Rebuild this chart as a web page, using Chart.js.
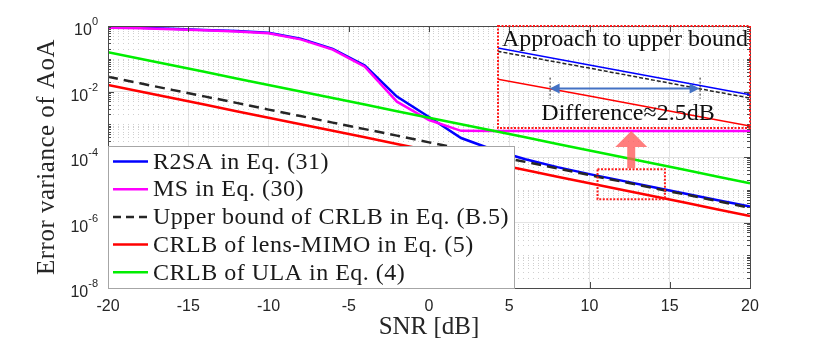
<!DOCTYPE html>
<html>
<head>
<meta charset="utf-8">
<script src="https://cdn.jsdelivr.net/npm/chart.js@4.4.1/dist/chart.umd.min.js"></script>
<style>
  body { margin: 0; background: #fff; }
  #wrap { position: relative; width: 830px; height: 347px; }
  canvas { position: absolute; }
</style>
</head>
<body>
<div id="wrap">
  <canvas id="mainChart" width="830" height="347" style="left:0;top:0"></canvas>
  <canvas id="insetChart" width="262" height="112" style="left:493px;top:21px"></canvas>
</div>
<script>
// SNR in dB, one point every 2 dB
const snr = [-20, -18, -16, -14, -12, -10, -8, -6, -4, -2, 0, 2, 4, 6, 8, 10, 12, 14, 16, 18, 20];
const r2sa = [0.92, 0.88, 0.82, 0.76, 0.70, 0.62, 0.41, 0.20, 0.062, 7.0e-3, 1.66e-3, 3.8e-4, 1.66e-4,
  8.5e-5, 4.9e-5, 3.0e-5, 1.9e-5, 1.2e-5, 7.6e-6, 4.8e-6, 3.1e-6];
const ms = [0.89, 0.85, 0.79, 0.74, 0.68, 0.60, 0.39, 0.19, 0.057, 4.9e-3, 1.35e-3, 6.3e-4, 6.2e-4,
  6.2e-4, 6.2e-4, 6.2e-4, 6.2e-4, 6.2e-4, 6.2e-4, 6.2e-4, 6.2e-4];
const upperBound = [0.0282, 0.0178, 0.0112, 7.1e-3, 4.5e-3, 2.8e-3, 1.78e-3, 1.12e-3, 7.1e-4, 4.5e-4, 2.8e-4,
  1.78e-4, 1.12e-4, 7.1e-5, 4.5e-5, 2.8e-5, 1.78e-5, 1.12e-5, 7.1e-6, 4.5e-6, 2.8e-6];
const lensMimo = [0.0158, 0.01, 6.3e-3, 4.0e-3, 2.5e-3, 1.58e-3, 1.0e-3, 6.3e-4, 4.0e-4, 2.5e-4, 1.58e-4,
  1.0e-4, 6.3e-5, 4.0e-5, 2.5e-5, 1.58e-5, 1.0e-5, 6.3e-6, 4.0e-6, 2.5e-6, 1.58e-6];
const ula = [0.158, 0.1, 0.063, 0.04, 0.025, 0.0158, 0.01, 6.3e-3, 4.0e-3, 2.5e-3, 1.58e-3, 1.0e-3,
  6.3e-4, 4.0e-4, 2.5e-4, 1.58e-4, 1.0e-4, 6.3e-5, 4.0e-5, 2.5e-5, 1.58e-5];

const seriesNames = ['R2SA in Eq. (31)', 'MS in Eq. (30)', 'Upper bound of CRLB in Eq. (B.5)',
  'CRLB of lens-MIMO in Eq. (5)', 'CRLB of ULA in Eq. (4)'];
const yTicks = [1, 1e-2, 1e-4, 1e-6, 1e-8];

// zoomed region shown in the inset
const zoomSnr = [10.5, 14.7];
const zoomVar = [4.22e-5, 5.15e-6];
// 2.5 dB gap marker inside the inset
const diffLevel = 1.16e-5;
const diffSnr = [11.36, 13.86];

const serif = '"Liberation Serif", "Times New Roman", serif';
const sans = '"Liberation Sans", Arial, sans-serif';

function pts(ys) {
  return snr.map((x, i) => ({ x: x, y: ys[i] }));
}

function makeSets(w) {
  return [
    { label: seriesNames[0], data: pts(r2sa), borderColor: '#0000ff', order: 5 },
    { label: seriesNames[1], data: pts(ms), borderColor: '#ff00ff', order: 4 },
    { label: seriesNames[2], data: pts(upperBound), borderColor: '#262626', borderDash: w > 2 ? [10, 6] : [4, 2], order: 3 },
    { label: seriesNames[3], data: pts(lensMimo), borderColor: '#ff0000', order: 2 },
    { label: seriesNames[4], data: pts(ula), borderColor: '#00ee00', order: 1 }
  ].map(d => Object.assign(d, { borderWidth: w, pointRadius: 0, tension: 0, fill: false }));
}

const decor = {
  id: 'decor',
  beforeDatasetsDraw(chart) {
    const ctx = chart.ctx, a = chart.chartArea, ys = chart.scales.y;
    ctx.save();
    ctx.strokeStyle = '#cfcfcf';
    ctx.lineWidth = 1;
    ctx.setLineDash([1, 4]);
    for (let n = -8; n < 0; n++) {
      for (let k = 1; k <= 9; k++) {
        const v = k * Math.pow(10, n);
        if (k === 1 && n % 2 === 0) continue;
        const y = Math.round(ys.getPixelForValue(v)) + 0.5;
        ctx.beginPath(); ctx.moveTo(a.left, y); ctx.lineTo(a.right, y); ctx.stroke();
      }
    }
    ctx.restore();
  },
  afterDatasetsDraw(chart) {
    const ctx = chart.ctx, a = chart.chartArea, xs = chart.scales.x, ys = chart.scales.y;
    ctx.save();
    // small dotted box marking the zoomed region
    const bx0 = xs.getPixelForValue(zoomSnr[0]), bx1 = xs.getPixelForValue(zoomSnr[1]);
    const by0 = ys.getPixelForValue(zoomVar[0]), by1 = ys.getPixelForValue(zoomVar[1]);
    ctx.strokeStyle = '#ff1a1a';
    ctx.lineWidth = 2;
    ctx.setLineDash([2, 1.5]);
    ctx.strokeRect(bx0, by0, bx1 - bx0, by1 - by0);
    ctx.setLineDash([]);
    // big arrow up to the inset
    const cx = (bx0 + bx1) / 2, tip = 131, headBase = 147;
    ctx.fillStyle = 'rgba(255, 90, 90, 0.78)';
    ctx.beginPath();
    ctx.moveTo(cx - 4, by0 - 1); ctx.lineTo(cx - 4, headBase); ctx.lineTo(cx - 16, headBase);
    ctx.lineTo(cx, tip); ctx.lineTo(cx + 16, headBase); ctx.lineTo(cx + 4, headBase);
    ctx.lineTo(cx + 4, by0 - 1); ctx.closePath(); ctx.fill();

    // axes box and ticks
    ctx.strokeStyle = '#4a4a4a';
    ctx.lineWidth = 1;
    ctx.strokeRect(a.left + 0.5, a.top + 0.5, a.right - a.left, a.bottom - a.top);
    ctx.beginPath();
    xs.ticks.forEach(t => {
      const x = Math.round(xs.getPixelForValue(t.value)) + 0.5;
      ctx.moveTo(x, a.bottom); ctx.lineTo(x, a.bottom - 6);
      ctx.moveTo(x, a.top); ctx.lineTo(x, a.top + 6);
    });
    for (let n = -8; n <= 0; n++) {
      for (let k = 1; k <= 9; k++) {
        const v = k * Math.pow(10, n);
        if (v > 1) break;
        const len = (k === 1 && n % 2 === 0) ? 6 : 3;
        const y = Math.round(ys.getPixelForValue(v)) + 0.5;
        ctx.moveTo(a.left, y); ctx.lineTo(a.left + len, y);
        ctx.moveTo(a.right, y); ctx.lineTo(a.right - len, y);
      }
    }
    ctx.stroke();

    // legend
    const lx = a.left, ly = 146, lw = 406, lh = a.bottom - ly;
    ctx.fillStyle = '#fff';
    ctx.fillRect(lx, ly, lw, lh);
    ctx.strokeStyle = '#a6a6a6';
    ctx.strokeRect(lx + 0.5, ly + 0.5, lw, lh);
    ctx.font = '24px ' + serif;
    ctx.letterSpacing = '0.5px';
    ctx.textBaseline = 'middle';
    ctx.textAlign = 'left';
    chart.data.datasets.forEach((d, i) => {
      const y = 161.5 + i * 27.7;
      ctx.strokeStyle = d.borderColor;
      ctx.lineWidth = 2.5;
      ctx.setLineDash(d.borderDash ? [8, 5] : []);
      ctx.beginPath(); ctx.moveTo(lx + 5, y); ctx.lineTo(lx + 40, y); ctx.stroke();
      ctx.fillStyle = '#1a1a1a';
      ctx.fillText(d.label, lx + 45, y + 1);
    });
    ctx.letterSpacing = '0px';
    ctx.setLineDash([]);
    ctx.restore();
  },
  afterDraw(chart) {
    const ctx = chart.ctx, a = chart.chartArea, xs = chart.scales.x, ys = chart.scales.y;
    ctx.save();
    ctx.fillStyle = '#262626';
    ctx.font = '16px ' + sans;
    ctx.textAlign = 'center';
    ctx.textBaseline = 'middle';
    xs.ticks.forEach(t => ctx.fillText(String(t.value), xs.getPixelForValue(t.value), 307));
    yTicks.forEach(v => {
      const exp = String(Math.round(Math.log10(v)));
      const y = ys.getPixelForValue(v);
      ctx.font = '11px ' + sans;
      const ew = ctx.measureText(exp).width;
      ctx.textAlign = 'right';
      ctx.fillText(exp, 98, y - 4);
      ctx.font = '16px ' + sans;
      ctx.fillText('10', 98 - ew, y + 5);
    });
    ctx.font = '25px ' + serif;
    ctx.textAlign = 'center';
    ctx.fillText('SNR [dB]', (a.left + a.right) / 2, 327);
    ctx.translate(47, (a.top + a.bottom) / 2);
    ctx.rotate(-Math.PI / 2);
    ctx.letterSpacing = '0.5px';
    ctx.fillText('Error variance of AoA', 0, 0);
    ctx.restore();
  }
};

new Chart(document.getElementById('mainChart'), {
  type: 'line',
  data: { datasets: makeSets(2.5) },
  options: {
    responsive: false,
    animation: false,
    layout: { padding: { left: 108, right: 80, top: 26, bottom: 59 } },
    plugins: { legend: { display: false }, tooltip: { enabled: false } },
    scales: {
      x: {
        type: 'linear', min: -20, max: 20,
        ticks: { stepSize: 5, display: false },
        grid: { color: '#e4e4e4', drawTicks: false },
        border: { display: false },
        afterFit(s) { s.height = 0; }
      },
      y: {
        type: 'logarithmic', min: 1e-8, max: 1,
        afterBuildTicks(s) { s.ticks = yTicks.map(v => ({ value: v })); },
        ticks: { display: false },
        grid: { color: '#e4e4e4', drawTicks: false },
        border: { display: false },
        afterFit(s) { s.width = 0; }
      }
    }
  },
  plugins: [decor]
});

const insetDecor = {
  id: 'insetDecor',
  afterDraw(chart) {
    const ctx = chart.ctx, a = chart.chartArea, xs = chart.scales.x, ys = chart.scales.y;
    ctx.save();
    ctx.strokeStyle = '#ff1a1a';
    ctx.lineWidth = 2;
    ctx.setLineDash([2, 1.5]);
    ctx.strokeRect(a.left, a.top, a.right - a.left, a.bottom - a.top);
    ctx.setLineDash([]);
    const cx = (a.left + a.right) / 2;
    ctx.fillStyle = '#111';
    ctx.font = '24px ' + serif;
    ctx.textAlign = 'center';
    ctx.textBaseline = 'alphabetic';
    ctx.fillText('Approach to upper bound', cx + 1, a.top + 20);
    ctx.fillText('Difference\u22482.5dB', cx + 4, a.top + 94);
    // 2.5 dB gap arrow
    const y = ys.getPixelForValue(diffLevel);
    const x0 = xs.getPixelForValue(diffSnr[0]), x1 = xs.getPixelForValue(diffSnr[1]);
    ctx.strokeStyle = '#222';
    ctx.lineWidth = 1;
    ctx.setLineDash([2, 2]);
    ctx.beginPath();
    ctx.moveTo(x0 + 0.5, y - 11); ctx.lineTo(x0 + 0.5, y + 10);
    ctx.moveTo(x1 + 0.5, y - 11); ctx.lineTo(x1 + 0.5, y + 10);
    ctx.stroke();
    ctx.setLineDash([]);
    ctx.strokeStyle = '#4472c4';
    ctx.fillStyle = '#4472c4';
    ctx.lineWidth = 2;
    ctx.beginPath(); ctx.moveTo(x0 + 8, y); ctx.lineTo(x1 - 8, y); ctx.stroke();
    ctx.beginPath(); ctx.moveTo(x0, y); ctx.lineTo(x0 + 10, y - 5); ctx.lineTo(x0 + 10, y + 5); ctx.closePath(); ctx.fill();
    ctx.beginPath(); ctx.moveTo(x1, y); ctx.lineTo(x1 - 10, y - 5); ctx.lineTo(x1 - 10, y + 5); ctx.closePath(); ctx.fill();
    ctx.restore();
  }
};

new Chart(document.getElementById('insetChart'), {
  type: 'line',
  data: { datasets: makeSets(1.5).slice(0, 4).filter((d, i) => i !== 1) },
  options: {
    responsive: false,
    animation: false,
    layout: { padding: 5 },
    plugins: { legend: { display: false }, tooltip: { enabled: false } },
    scales: {
      x: { type: 'linear', display: false, min: zoomSnr[0], max: zoomSnr[1] },
      y: { type: 'logarithmic', display: false, min: zoomVar[1], max: zoomVar[0] }
    }
  },
  plugins: [insetDecor]
});
</script>
</body>
</html>
